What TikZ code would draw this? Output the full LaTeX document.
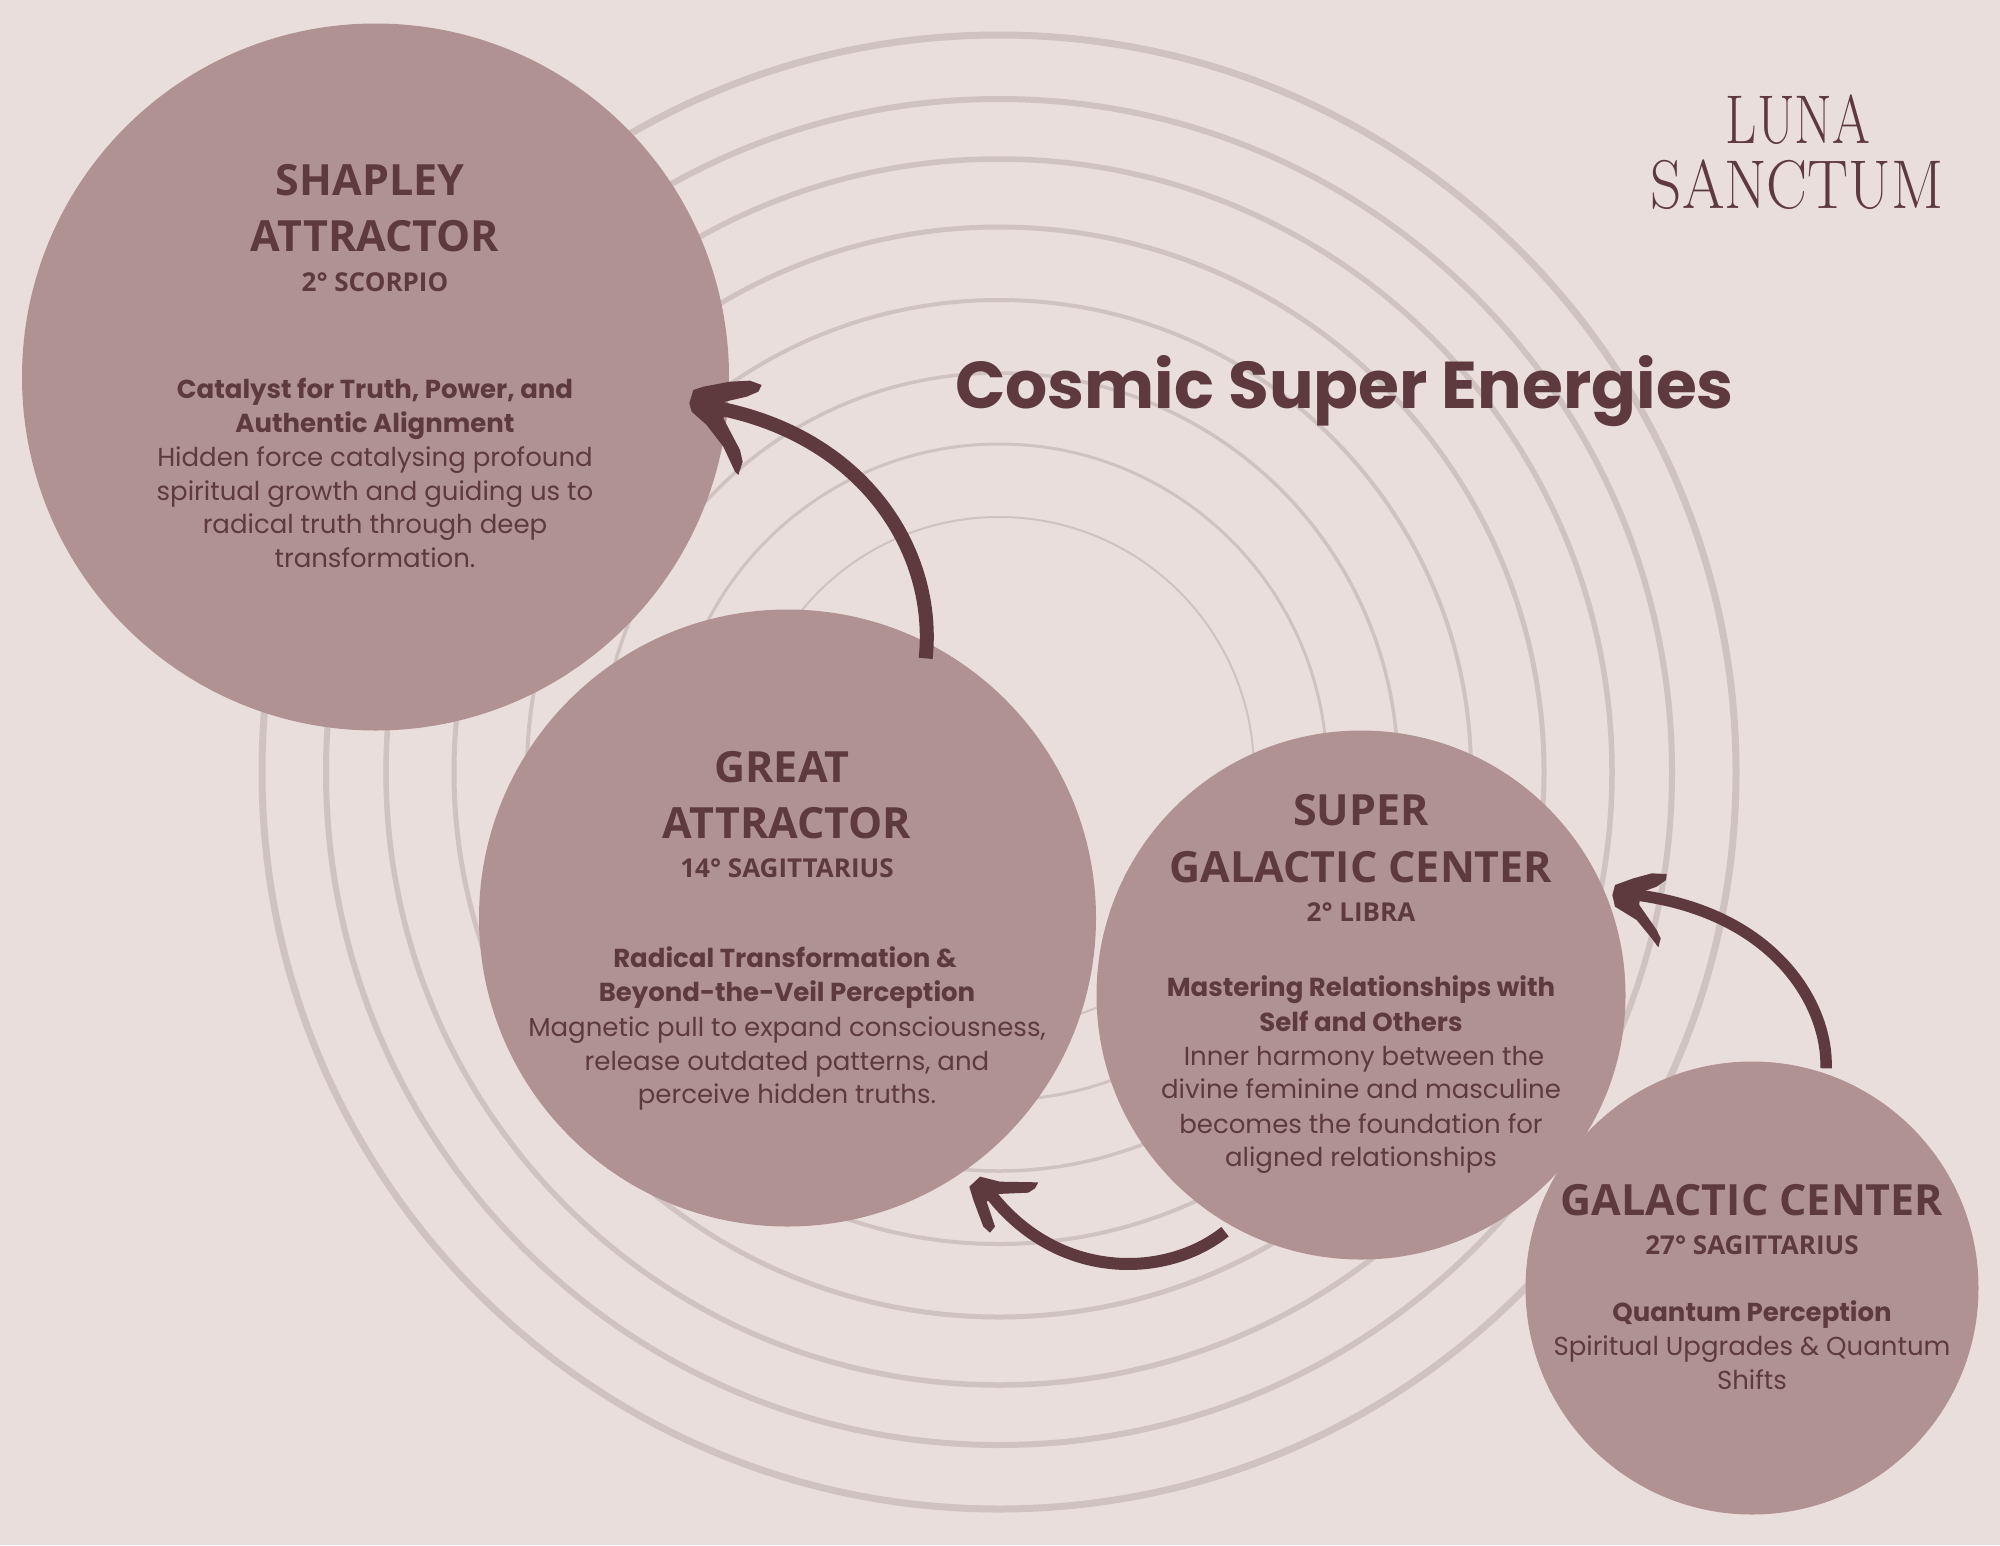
\documentclass[tikz,border=0pt]{standalone}
\usepackage{fontspec}
\setmainfont{Poppins}
\newfontfamily\headf{Open Sans}
\newfontfamily\bodyf{Poppins}
\newfontfamily\logof{Latin Modern Roman}
\definecolor{bgc}{HTML}{E9DEDC}
\definecolor{disc}{HTML}{B09292}
\definecolor{ink}{HTML}{5E3A3F}
\definecolor{ringc}{HTML}{D0C2C1}
\tikzset{
  disc/.style={circle,fill=disc,draw=none,inner sep=0pt},
  ringl/.style={draw=ringc,fill=none},
  hdtxt/.style={anchor=base,inner sep=0pt,text=ink,yshift=-1pt,font=\headf\bfseries\fontsize{43}{43}\selectfont},
  subtxt/.style={anchor=base,inner sep=0pt,text=ink,font=\headf\bfseries\fontsize{26}{26}\selectfont},
  leadtxt/.style={anchor=base,inner sep=0pt,text=ink,font=\bodyf\bfseries\fontsize{26}{26}\selectfont},
  bodytxt/.style={anchor=base,inner sep=0pt,text=ink,font=\bodyf\fontsize{26}{26}\selectfont},
  logotxt/.style={anchor=base,inner sep=0pt,text=ink,font=\logof\fontsize{69}{69}\selectfont,transform shape},
  shaft/.style={draw=ink,line cap=butt,fill=none},
  tip/.style={fill=ink,draw=none},
  zoomed/.style={x=0.33333pt,y=-0.33333pt},
}
\begin{document}
\begin{tikzpicture}[x=1pt,y=-1pt]
\useasboundingbox (0,0) rectangle (2000,1545);
\fill[bgc] (0,0) rectangle (2000,1545);
% rings
\coordinate (rc) at (999,772);
\draw[ringl,line width=2] (rc) circle[radius=255];
\draw[ringl,line width=3] (rc) circle[radius=328];
\draw[ringl,line width=3.5] (rc) circle[radius=399];
\draw[ringl,line width=4] (rc) circle[radius=472];
\draw[ringl,line width=5] (rc) circle[radius=545];
\draw[ringl,line width=5.5] (rc) circle[radius=613];
\draw[ringl,line width=6] (rc) circle[radius=673];
\draw[ringl,line width=7] (rc) circle[radius=737];
% discs
\node[disc,minimum size=707pt] (shapley) at (375.5,377) {};
\node[disc,minimum size=617pt] (great) at (787.5,918) {};
\node[disc,minimum size=529pt] (super) at (1361,995) {};
\node[disc,minimum size=453pt] (galactic) at (1752,1288) {};
% title and logo
\node[anchor=base,inner sep=0pt,text=ink,font=\bodyf\bfseries\fontsize{66.2}{66}\selectfont] (title) at (1344.5,408) {Cosmic Super Energies};
\node[logotxt,xscale=.79] (logoa) at (1798,143) {LUNA};
\node[logotxt,xscale=.888] (logob) at (1797,208) {SANCTUM};
% Shapley
\node[hdtxt] (s1) at (370,194) {SHAPLEY};
\node[hdtxt] (s2) at (375,250) {ATTRACTOR};
\node[subtxt] (s3) at (375,291) {2° SCORPIO};
\node[leadtxt] (s4) at (375,398) {Catalyst for Truth, Power, and};
\node[leadtxt] (s5) at (375,432) {Authentic Alignment};
\node[bodytxt] (s6) at (375,466) {Hidden force catalysing profound};
\node[bodytxt] (s7) at (375,500) {spiritual growth and guiding us to};
\node[bodytxt] (s8) at (375,533) {radical truth through deep};
\node[bodytxt] (s9) at (375,567) {transformation.};
% Great
\node[hdtxt] (g1) at (782,781) {GREAT};
\node[hdtxt] (g2) at (787,837) {ATTRACTOR};
\node[subtxt] (g3) at (787,877) {14° SAGITTARIUS};
\node[leadtxt] (g4) at (785,967) {Radical Transformation \&};
\node[leadtxt] (g5) at (787,1001) {Beyond-the-Veil Perception};
\node[bodytxt] (g6) at (787,1036) {Magnetic pull to expand consciousness,};
\node[bodytxt] (g7) at (787,1070) {release outdated patterns, and};
\node[bodytxt] (g8) at (787,1103) {perceive hidden truths.};
% Super
\node[hdtxt] (c1) at (1361,824) {SUPER};
\node[hdtxt] (c2) at (1361,881) {GALACTIC CENTER};
\node[subtxt] (c3) at (1361,921) {2° LIBRA};
\node[leadtxt] (c4) at (1361,996) {Mastering Relationships with};
\node[leadtxt] (c5) at (1361,1031) {Self and Others};
\node[bodytxt] (c6) at (1364,1065) {Inner harmony between the};
\node[bodytxt] (c7) at (1361,1098) {divine feminine and masculine};
\node[bodytxt] (c8) at (1361,1133) {becomes the foundation for};
\node[bodytxt] (c9) at (1361,1166) {aligned relationships};
% Galactic
\node[hdtxt] (d1) at (1752,1214) {GALACTIC CENTER};
\node[subtxt] (d2) at (1752,1254) {27° SAGITTARIUS};
\node[leadtxt] (d3) at (1752,1321) {Quantum Perception};
\node[bodytxt] (d4) at (1752,1355) {Spiritual Upgrades \& Quantum};
\node[bodytxt] (d5) at (1752,1389) {Shifts};
% arrow great -> shapley
\begin{scope}[shift={(660,340)},zoomed]
\coordinate (a1s) at (797,955);
\coordinate (a1e) at (190,208);
\draw[shaft,line width=14] (a1s) .. controls (830,640) and (620,300) .. (a1e);
\fill[tip] (88,190) -- (100,150) -- (130,140) -- (210,125) -- (270,122) -- (305,135) -- (295,155) -- (260,170) -- (195,185) -- (200,210) -- (190,235) -- (240,330) -- (248,365) -- (235,405) -- (225,395) -- (190,320) -- (140,255) -- (95,215) -- cycle;
\end{scope}
% arrow super -> great
\begin{scope}[shift={(940,1150)},zoomed]
\coordinate (a2s) at (855,245);
\coordinate (a2e) at (150,130);
\draw[shaft,line width=12] (a2s) .. controls (680,385) and (355,395) .. (a2e);
\fill[tip] (88,110) -- (120,80) -- (180,95) -- (295,97) -- (285,115) -- (265,128) -- (170,132) -- (140,155) -- (165,230) -- (150,248) -- (130,230) -- (100,150) -- cycle;
\end{scope}
% arrow galactic -> super
\begin{scope}[shift={(1580,850)},zoomed]
\coordinate (a3s) at (738,655);
\coordinate (a3e) at (170,135);
\draw[shaft,line width=11.5] (a3s) .. controls (745,470) and (590,190) .. (a3e);
\fill[tip] (97,135) -- (105,105) -- (160,85) -- (215,70) -- (260,72) -- (258,90) -- (230,110) -- (180,128) -- (178,165) -- (230,240) -- (242,265) -- (235,292) -- (215,265) -- (170,210) -- (105,170) -- cycle;
\end{scope}
\end{tikzpicture}
\end{document}
